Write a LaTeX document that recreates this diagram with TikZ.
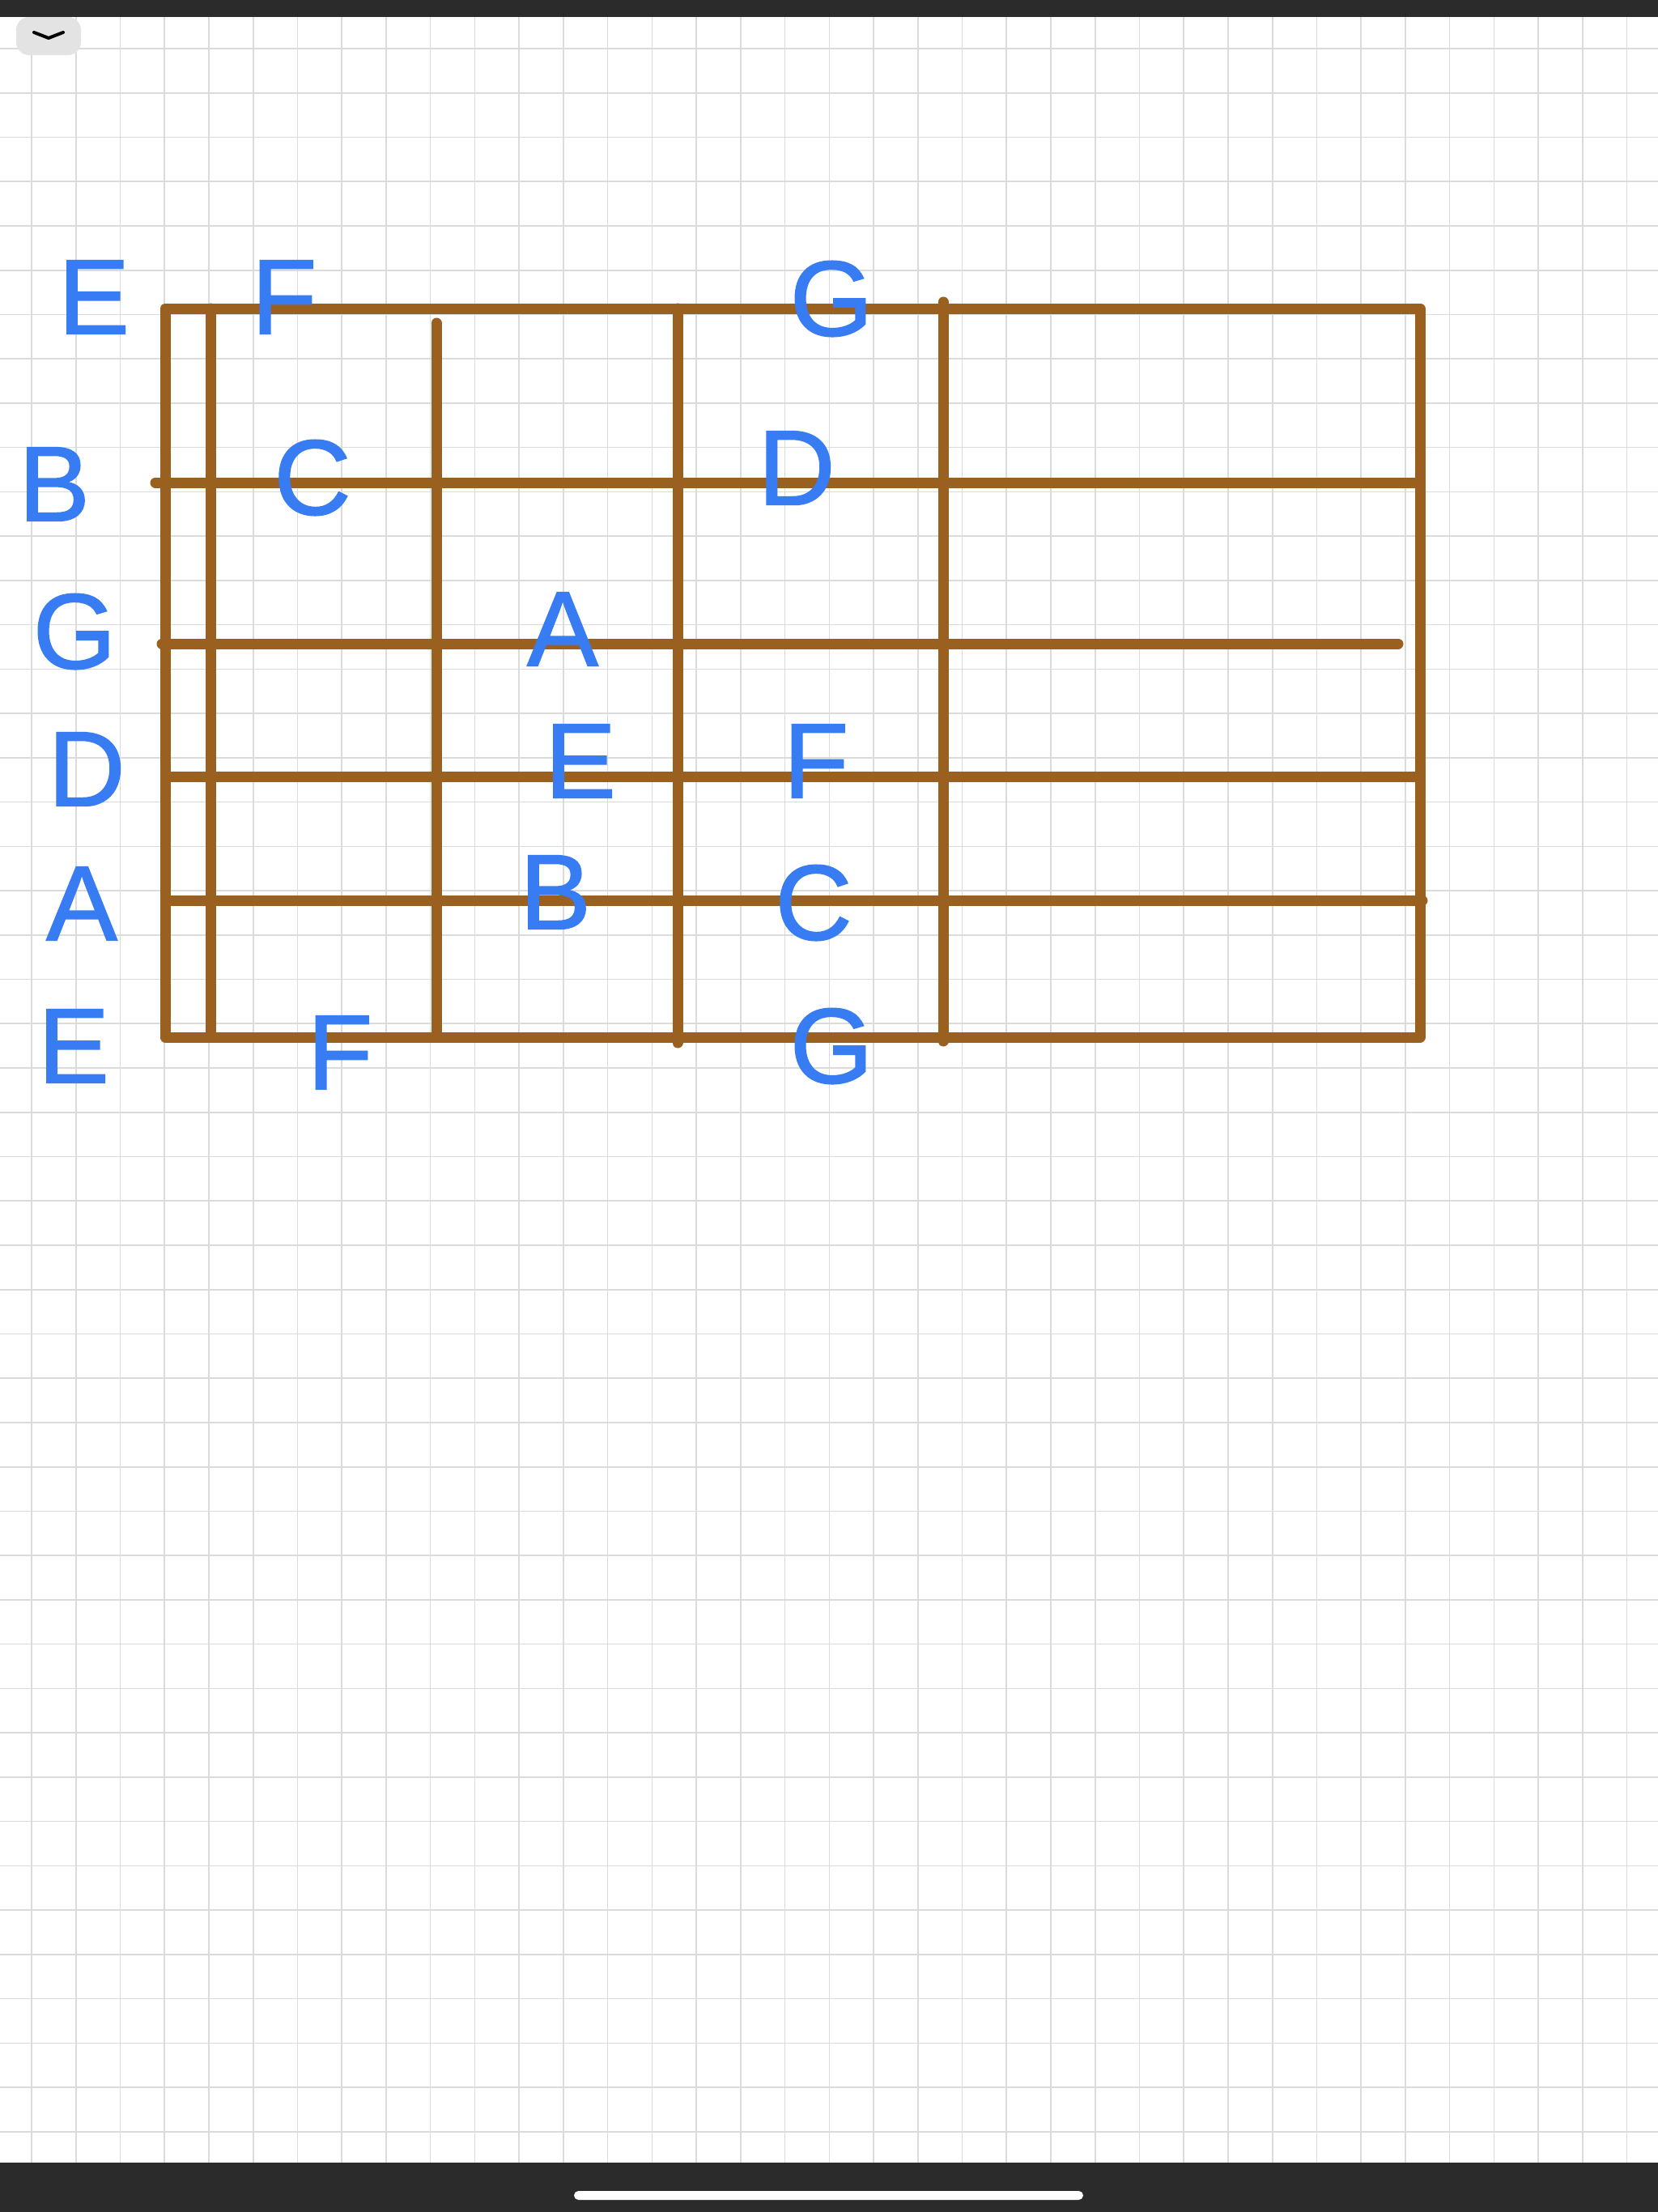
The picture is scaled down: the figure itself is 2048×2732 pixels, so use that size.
\documentclass[tikz,border=0pt]{standalone}
\usepackage{fontspec}
\setmainfont{Liberation Sans}[FakeBold=1.2]
\usepackage{tikz}
\usepackage[dvipsnames, svgnames, table]{xcolor}

\definecolor{fretbrown}{HTML}{99601F}
\definecolor{inkblue}{HTML}{387CF4}
\definecolor{bardark}{HTML}{2B2B2B}
\definecolor{btngray}{HTML}{E3E3E3}

\begin{document}
\begin{tikzpicture}[x=0.5pt, y=-0.5pt,
    wood/.style={fretbrown, line width=6.5pt, line cap=round, line join=round},
    note/.style={inkblue, font=\fontsize{66}{66}\selectfont, inner sep=0pt},
    gridline/.style={black!14, line width=0.8pt}]
    \useasboundingbox (0,0) rectangle (2048,2732);
    \fill[white] (0,0) rectangle (2048,2732);

    % Grid paper
    \foreach \k in {0,...,36}
        \draw[gridline] ({39+54.74*\k},21) -- ({39+54.74*\k},2671);
    \foreach \k in {0,...,47}
        \draw[gridline] (0,{60+54.74*\k}) -- (2048,{60+54.74*\k});

    % Bars
    \fill[bardark] (0,0) rectangle (2048,21);
    \fill[bardark] (0,2671) rectangle (2048,2732);
    \fill[white, rounded corners=2.75pt] (709,2706) rectangle (1338,2717);

    % Button
    \fill[btngray, rounded corners=8pt] (20,21) rectangle (100,68);
    \draw[black, line width=2pt, line cap=round, line join=round] (42,40) -- (60,47) -- (78,40);

    % Fretboard
    \draw[wood] (204,381) rectangle (1754,1281);
    \foreach \y/\a/\b in {596/192/1754, 795/200/1727, 959/206/1747, 1112/206/1757}
        \draw[wood] (\a,\y) -- (\b,\y);
    \foreach \x/\a/\b in {260/381/1279, 539/399/1278, 837/381/1288, 1165/373/1286}
        \draw[wood] (\x,\a) -- (\x,\b);

    % Open strings
    \node[note] (openHiE) at (116,367) {E};
    \node[note] (openB) at (67,598) {B};
    \node[note] (openG) at (92,780) {G};
    \node[note] (openD) at (107,950) {D};
    \node[note] (openA) at (101,1116) {A};
    \node[note] (openLoE) at (91,1292) {E};

    % Notes on the frets
    \node[note] (hiEF) at (351,367) {F};
    \node[note] (hiEG) at (1027,369) {G};
    \node[note] (bC) at (386,590) {C};
    \node[note] (bD) at (984,578) {D};
    \node[note] (gA) at (695,777) {A};
    \node[note] (dE) at (717,940) {E};
    \node[note] (dF) at (1008,940) {F};
    \node[note] (aB) at (686,1102) {B};
    \node[note] (aC) at (1005,1115) {C};
    \node[note] (loEF) at (420,1300) {F};
    \node[note] (loEG) at (1027,1292) {G};
\end{tikzpicture}
\end{document}
